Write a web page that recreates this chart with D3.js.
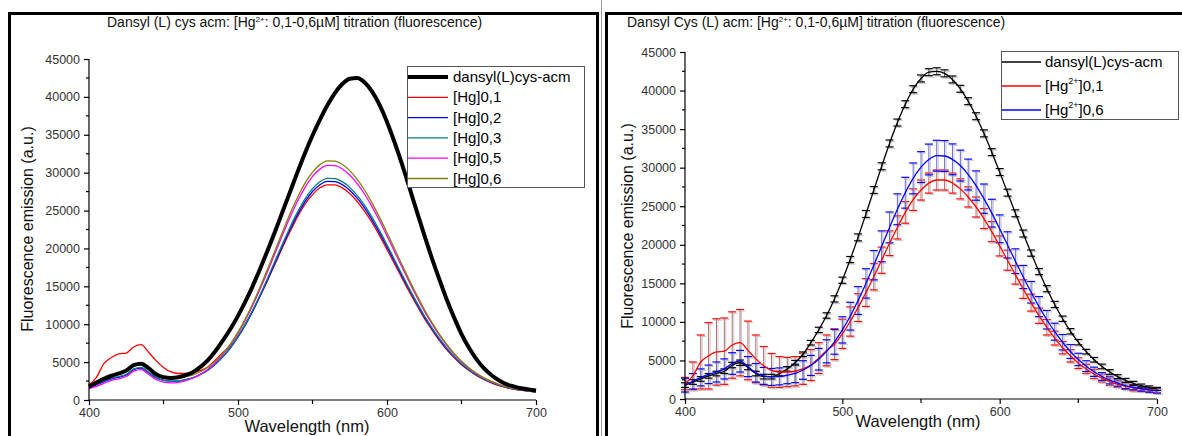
<!DOCTYPE html>
<html>
<head>
<meta charset="utf-8">
<script src="https://cdn.jsdelivr.net/npm/d3@7"></script>
<style>
  body { margin: 0; background: #fff; }
  svg { display: block; font-family: "Liberation Sans", Arial, sans-serif; }
  .tick text { fill: #333; font-size: 12.5px; }
  .axis path, .axis line { stroke: #000; stroke-width: 1.2px; }
</style>
</head>
<body>
<div id="chart"></div>
<script>
// Dansyl (L) cys acm – Hg2+ titration, fluorescence emission 400-700 nm

const wavelengths = d3.range(400, 701, 5);

// left panel: single titration run
const dansyl = [1800, 2300, 2800, 3200, 3500, 3900, 4600, 4800, 4200, 3400,
  3000, 2900, 3000, 3300, 3700, 4400, 5300, 6500, 7900, 9400,
  11100, 13000, 15100, 17400, 19800, 22300, 24900, 27500, 30100, 32600,
  34900, 37000, 38900, 40500, 41700, 42400, 42500, 41900, 40700, 38950,
  36700, 34050, 31150, 28050, 24900, 21800, 18800, 16000, 13300, 10900,
  8700, 6900, 5400, 4200, 3300, 2600, 2100, 1800, 1550, 1400, 1250];

const hg01 = [2000, 3000, 4800, 5600, 6100, 6200, 7000, 7300, 6300, 5200,
  4300, 3700, 3500, 3500, 3600, 3900, 4400, 5300, 6300, 7100,
  8450, 10050, 11850, 13800, 15850, 18000, 20200, 22250, 24200, 25850,
  27100, 28000, 28400, 28400, 28000, 27250, 26200, 24900, 23400, 21700,
  19850, 18000, 16100, 14250, 12500, 10800, 9300, 7900, 6650, 5600,
  4650, 3900, 3250, 2700, 2250, 1900, 1650, 1450, 1300, 1200, 1100];

const hg02 = [1600, 2000, 2400, 2800, 3000, 3300, 4000, 4200, 3600, 2900,
  2600, 2500, 2500, 2700, 2950, 3400, 3970, 4750, 5720, 6890,
  8300, 9920, 11760, 13780, 15930, 18160, 20390, 22530, 24490, 26180,
  27510, 28410, 28850, 28820, 28420, 27680, 26630, 25320, 23770, 22060,
  20210, 18300, 16380, 14510, 12710, 11010, 9460, 8050, 6800, 5700,
  4760, 3970, 3300, 2750, 2320, 1960, 1680, 1450, 1290, 1160, 1050];

const hg03 = [1700, 2100, 2500, 2900, 3100, 3400, 4100, 4300, 3700, 3000,
  2600, 2500, 2510, 2700, 2970, 3420, 4000, 4800, 5780, 6970,
  8400, 10040, 11910, 13960, 16140, 18400, 20660, 22840, 24830, 26540,
  27890, 28800, 29250, 29220, 28810, 28060, 27000, 25670, 24100, 22360,
  20490, 18550, 16600, 14700, 12880, 11150, 9580, 8150, 6880, 5770,
  4810, 4010, 3330, 2780, 2340, 1970, 1690, 1460, 1300, 1160, 1050];

const hg05 = [1500, 1800, 2200, 2600, 2800, 3100, 3800, 4000, 3400, 2700,
  2350, 2250, 2320, 2560, 2900, 3420, 4100, 4990, 6040, 7300,
  8820, 10560, 12540, 14720, 17030, 19430, 21840, 24140, 26250, 28070,
  29500, 30470, 30950, 30920, 30490, 29690, 28560, 27150, 25490, 23650,
  21660, 19600, 17540, 15530, 13590, 11760, 10100, 8580, 7240, 6050,
  5040, 4200, 3480, 2890, 2420, 2040, 1740, 1490, 1320, 1180, 1070];

const hg06 = [1800, 2300, 2800, 3200, 3500, 3900, 4600, 4900, 4200, 3400,
  3000, 2860, 2930, 3080, 3320, 3760, 4350, 5160, 6180, 7410,
  8960, 10740, 12770, 14990, 17350, 19800, 22250, 24600, 26750, 28610,
  30070, 31060, 31550, 31510, 31080, 30270, 29110, 27680, 25980, 24100,
  22070, 19980, 17870, 15820, 13840, 11980, 10280, 8730, 7360, 6160,
  5130, 4260, 3530, 2920, 2450, 2060, 1750, 1500, 1330, 1190, 1070];

// right panel: replicate means and standard deviations
const meanDansyl = [1800, 2200, 2600, 3000, 3300, 3600, 4400, 4700, 4100, 3300,
  2900, 2900, 3300, 3900, 4700, 5800, 7300, 8960, 10830, 12980,
  15400, 18080, 20960, 23990, 27100, 30180, 33140, 35850, 38230, 40170,
  41570, 42380, 42500, 42230, 41440, 40230, 38620, 36670, 34450, 32010,
  29430, 26760, 24080, 21460, 18920, 16520, 14300, 12260, 10410, 8780,
  7370, 6140, 5090, 4220, 3500, 2900, 2420, 2040, 1740, 1500, 1310];

const errDansyl = [300, 300, 300, 300, 300, 300, 350, 350, 300, 300,
  300, 300, 300, 300, 300, 300, 300, 350, 350, 400,
  400, 400, 450, 450, 450, 450, 450, 450, 450, 450,
  450, 450, 450, 450, 450, 450, 450, 450, 450, 450,
  450, 450, 450, 450, 400, 400, 400, 400, 350, 350,
  350, 300, 300, 300, 300, 250, 250, 250, 200, 200, 200];

const meanHg01 = hg01;
const errHg01 = [800, 1800, 3500, 4300, 4300, 4300, 4300, 4300, 3800, 3100,
  2500, 2200, 2000, 1900, 1900, 2000, 2000, 2000, 2000, 2000,
  1900, 1900, 1800, 1800, 1700, 1700, 1600, 1500, 1400, 1400,
  1300, 1300, 1300, 1300, 1300, 1300, 1300, 1300, 1300, 1300,
  1300, 1300, 1200, 1200, 1100, 1000, 1000, 900, 800, 800,
  700, 600, 600, 500, 500, 400, 400, 400, 300, 300, 300];

const meanHg06 = hg06;
const errHg06 = [900, 1000, 1100, 1200, 1300, 1300, 1400, 1400, 1300, 1200,
  1100, 1100, 1100, 1100, 1200, 1200, 1300, 1400, 1500, 1600,
  1700, 1800, 1800, 1900, 1900, 2000, 2000, 2000, 2000, 2000,
  2000, 2000, 2000, 2000, 2000, 2000, 2000, 1900, 1900, 1800,
  1800, 1700, 1600, 1500, 1400, 1300, 1200, 1100, 1000, 900,
  800, 700, 600, 500, 500, 400, 400, 300, 300, 300, 300];

const xTicks = [400, 500, 600, 700];
const yTicks = [0, 5000, 10000, 15000, 20000, 25000, 30000, 35000, 40000, 45000];

const leftSeries = [
  { name: 'dansyl(L)cys-acm', values: dansyl, color: '#000000', width: 4 },
  { name: '[Hg]0,1', values: hg01, color: '#ff0000', width: 1.3 },
  { name: '[Hg]0,2', values: hg02, color: '#0000ff', width: 1.3 },
  { name: '[Hg]0,3', values: hg03, color: '#008080', width: 1.3 },
  { name: '[Hg]0,5', values: hg05, color: '#ff00ff', width: 1.3 },
  { name: '[Hg]0,6', values: hg06, color: '#808000', width: 1.3 }
];

const rightSeries = [
  { name: 'dansyl(L)cys-acm', values: meanDansyl, err: errDansyl, color: '#000000', bar: '#444444' },
  { name: '[Hg', sup: '2+', rest: ']0,1', values: meanHg01, err: errHg01, color: '#ff0000', bar: '#b46a6a' },
  { name: '[Hg', sup: '2+', rest: ']0,6', values: meanHg06, err: errHg06, color: '#0000ff', bar: '#6a6ad8' }
];

const W = 1182, H = 436;
const svg = d3.select('#chart').append('svg').attr('width', W).attr('height', H);

// panel frames
svg.append('rect').attr('x', 9.5).attr('y', 13.5).attr('width', 588).attr('height', 440)
  .attr('fill', 'none').attr('stroke', '#000').attr('stroke-width', 3);
svg.append('line').attr('x1', 601.5).attr('x2', 601.5).attr('y1', 0).attr('y2', H)
  .attr('stroke', '#999').attr('stroke-width', 1);
svg.append('rect').attr('x', 606.5).attr('y', 13.5).attr('width', 600).attr('height', 440)
  .attr('fill', 'none').attr('stroke', '#000').attr('stroke-width', 3);

function drawAxes(g, x, y, opts) {
  const xAxis = d3.axisBottom(x).tickValues(xTicks).tickSize(5).tickPadding(3).tickFormat(d3.format('d'));
  const gx = g.append('g').attr('class', 'axis').attr('transform', `translate(0,${y(0)})`).call(xAxis);
  gx.select('.domain').attr('d', `M${x(400)},0H${x(700)}`);
  gx.selectAll('.minor').data([450, 550, 650]).enter().append('line')
    .attr('x1', d => x(d)).attr('x2', d => x(d)).attr('y1', 0).attr('y2', 4)
    .attr('stroke', '#000').attr('stroke-width', 1.2);

  const yAxis = d3.axisLeft(y).tickValues(yTicks).tickSize(5).tickPadding(4).tickFormat(d3.format('d'));
  const gy = g.append('g').attr('class', 'axis').attr('transform', `translate(${x(400)},0)`).call(yAxis);
  gy.select('.domain').attr('d', `M0,${y(0)}V${y(45000)}`);
  gy.selectAll('.minor').data(d3.range(2500, 45000, 5000)).enter().append('line')
    .attr('x1', -3).attr('x2', 0).attr('y1', d => y(d)).attr('y2', d => y(d))
    .attr('stroke', '#000').attr('stroke-width', 1.2);

  g.append('text')
    .attr('transform', `translate(${opts.yLabelX},${opts.yLabelY}) rotate(-90)`)
    .attr('text-anchor', 'middle').attr('font-size', 16).attr('fill', '#111')
    .text('Fluorescence emission (a.u.)');
  g.append('text')
    .attr('x', opts.xLabelX).attr('y', opts.xLabelY)
    .attr('text-anchor', 'middle').attr('font-size', 16.5).attr('fill', '#111')
    .text('Wavelength (nm)');
}

function drawTitle(g, x0, y0, before) {
  const t = g.append('text').attr('x', x0).attr('y', y0).attr('font-size', 14).attr('fill', '#111');
  t.append('tspan').text(before);
  t.append('tspan').attr('dy', -5).attr('font-size', 8).text('2+');
  t.append('tspan').attr('dy', 5).text(': 0,1-0,6\u00b5M] titration (fluorescence)');
}

// ---------- left panel ----------
const xL = d3.scaleLinear().domain([400, 700]).range([89, 536]);
const yL = d3.scaleLinear().domain([0, 45000]).range([400, 59]);
const left = svg.append('g');

drawTitle(left, 107, 27, 'Dansyl (L) cys acm: [Hg');

const lineL = d3.line().x((d, i) => xL(wavelengths[i])).y(d => yL(d)).curve(d3.curveMonotoneX);
left.selectAll('.curve').data(leftSeries.slice(1).concat([leftSeries[0]])).enter().append('path')
  .attr('d', d => lineL(d.values)).attr('fill', 'none')
  .attr('stroke', d => d.color).attr('stroke-width', d => d.width);

drawAxes(left, xL, yL, { yLabelX: 33, yLabelY: 229, xLabelX: 307, xLabelY: 432 });

// legend
const legL = left.append('g');
legL.append('rect').attr('x', 407.5).attr('y', 66.5).attr('width', 177).attr('height', 121)
  .attr('fill', '#fff').attr('stroke', '#555').attr('stroke-width', 1);
leftSeries.forEach((s, i) => {
  const yy = 77 + i * 20.3;
  legL.append('line').attr('x1', 408).attr('x2', 448).attr('y1', yy).attr('y2', yy)
    .attr('stroke', s.color).attr('stroke-width', s.width);
  legL.append('text').attr('x', 453).attr('y', yy + 5).attr('font-size', 15).attr('fill', '#000').text(s.name);
});

// ---------- right panel ----------
const xR = d3.scaleLinear().domain([400, 700]).range([685, 1157]);
const yR = d3.scaleLinear().domain([0, 45000]).range([399, 52]);
const right = svg.append('g');

drawTitle(right, 627, 27, 'Dansyl Cys (L) acm: [Hg');

const errOrder = [rightSeries[1], rightSeries[2], rightSeries[0]];
errOrder.forEach(s => {
  const g = right.append('g');
  wavelengths.forEach((w, i) => {
    const cx = xR(w), hi = yR(s.values[i] + s.err[i]), lo = yR(s.values[i] - s.err[i]);
    // soft shadow like the original export
    g.append('line').attr('x1', cx + 1.5).attr('x2', cx + 1.5).attr('y1', hi + 1.5).attr('y2', lo + 1.5)
      .attr('stroke', '#aaa').attr('stroke-opacity', 0.6).attr('stroke-width', 1);
    g.append('line').attr('x1', cx).attr('x2', cx).attr('y1', hi).attr('y2', lo)
      .attr('stroke', s.bar).attr('stroke-width', 1);
    [hi, lo].forEach(yy => {
      g.append('line').attr('x1', cx - 4 + 1.5).attr('x2', cx + 4 + 1.5).attr('y1', yy + 1.5).attr('y2', yy + 1.5)
        .attr('stroke', '#aaa').attr('stroke-opacity', 0.6).attr('stroke-width', 1);
      g.append('line').attr('x1', cx - 4).attr('x2', cx + 4).attr('y1', yy).attr('y2', yy)
        .attr('stroke', s.color).attr('stroke-width', 1.2);
    });
  });
});

const lineR = d3.line().x((d, i) => xR(wavelengths[i])).y(d => yR(d)).curve(d3.curveMonotoneX);
rightSeries.forEach(s => {
  right.append('path').attr('d', lineR(s.values)).attr('fill', 'none')
    .attr('stroke', s.color).attr('stroke-width', 1.3);
});

drawAxes(right, xR, yR, { yLabelX: 633, yLabelY: 226, xLabelX: 918, xLabelY: 427 });

// legend
const legR = right.append('g');
legR.append('rect').attr('x', 1001.5).attr('y', 51.5).attr('width', 177).attr('height', 68)
  .attr('fill', '#fff').attr('stroke', '#555').attr('stroke-width', 1);
rightSeries.forEach((s, i) => {
  const yy = 62 + i * 24;
  legR.append('line').attr('x1', 1002).attr('x2', 1041).attr('y1', yy).attr('y2', yy)
    .attr('stroke', s.color).attr('stroke-width', 1.3);
  const t = legR.append('text').attr('x', 1045).attr('y', yy + 5).attr('font-size', 15).attr('fill', '#000');
  t.append('tspan').text(s.name);
  if (s.sup) {
    t.append('tspan').attr('dy', -7).attr('font-size', 9).text(s.sup);
    t.append('tspan').attr('dy', 7).text(s.rest);
  }
});
</script>
</body>
</html>
